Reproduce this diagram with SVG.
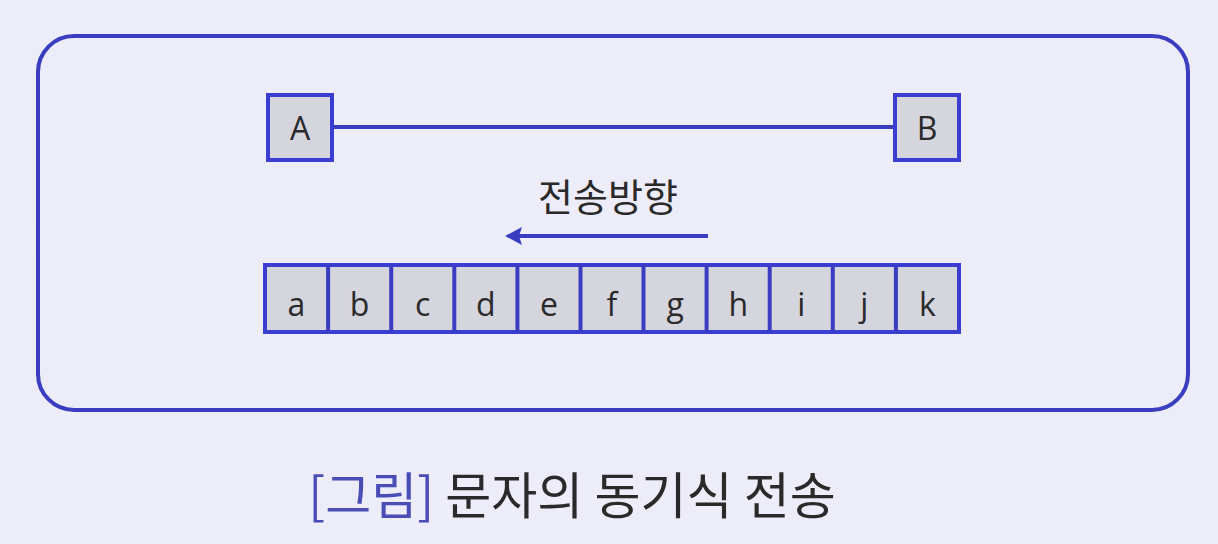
<svg xmlns="http://www.w3.org/2000/svg" width="1218" height="544" viewBox="0 0 1218 544">
<style>
.bg{fill:#edecf9}
.frame{fill:none;stroke:#3a3dbf;stroke-width:4}
.box{fill:#d5d5de;stroke:#3a3dd0;stroke-width:4}
.cell{fill:#d5d5de;stroke:#3a3dd0;stroke-width:4}
.lbl{font-family:"Open Sans","Noto Sans","Liberation Sans",sans-serif;font-size:32px;fill:#2a2a2a;text-anchor:middle}
.kr{font-family:"Noto Sans CJK KR",sans-serif;fill:#2a2a2a}
.line{stroke:#3a3dc0;stroke-width:4;fill:none}
</style>
<rect class="bg" x="0" y="0" width="1218" height="544"/>
<rect class="frame" x="38" y="36" width="1150" height="374" rx="36" ry="36"/>
<g id="connectors">
<line class="line" x1="332" y1="127" x2="894" y2="127"/>
<line class="line" x1="708" y1="236" x2="515" y2="236" stroke-width="3.5"/>
<path d="M505,236 L522,227 L519,236 L522,245 Z" fill="#3a3dc0"/>
</g>
<g id="nodeA"><rect class="box" x="268" y="95" width="64" height="65"/><text class="lbl" x="300" y="140" font-size="34">A</text></g>
<g id="nodeB"><rect class="box" x="895" y="95" width="64" height="65"/><text class="lbl" x="927" y="140" font-size="34">B</text></g>
<text class="kr" x="608" y="211" font-size="38" text-anchor="middle">전송방향</text>
<g id="cells">
<rect class="cell" x="265" y="265" width="694" height="67"/>
<line class="line" x1="328.1" y1="265" x2="328.1" y2="332"/>
<line class="line" x1="391.2" y1="265" x2="391.2" y2="332"/>
<line class="line" x1="454.3" y1="265" x2="454.3" y2="332"/>
<line class="line" x1="517.4" y1="265" x2="517.4" y2="332"/>
<line class="line" x1="580.5" y1="265" x2="580.5" y2="332"/>
<line class="line" x1="643.5" y1="265" x2="643.5" y2="332"/>
<line class="line" x1="706.6" y1="265" x2="706.6" y2="332"/>
<line class="line" x1="769.7" y1="265" x2="769.7" y2="332"/>
<line class="line" x1="832.8" y1="265" x2="832.8" y2="332"/>
<line class="line" x1="895.9" y1="265" x2="895.9" y2="332"/>
<text class="lbl" x="296.5" y="316">a</text>
<text class="lbl" x="359.6" y="316">b</text>
<text class="lbl" x="422.7" y="316">c</text>
<text class="lbl" x="485.8" y="316">d</text>
<text class="lbl" x="548.9" y="316">e</text>
<text class="lbl" x="612" y="316">f</text>
<text class="lbl" x="675.1" y="316">g</text>
<text class="lbl" x="738.2" y="316">h</text>
<text class="lbl" x="801.3" y="316">i</text>
<text class="lbl" x="864.4" y="316">j</text>
<text class="lbl" x="927.5" y="316">k</text>
</g>
<text class="kr" x="572" y="514" font-size="50" text-anchor="middle"><tspan fill="#4a4db5">[그림]</tspan> 문자의 동기식 전송</text>
</svg>
